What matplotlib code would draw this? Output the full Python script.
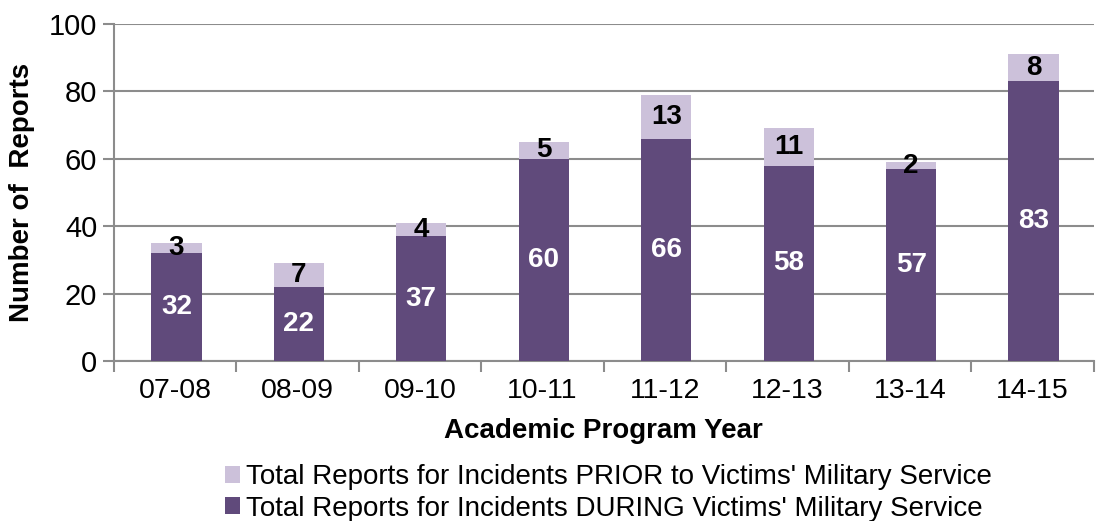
import matplotlib
matplotlib.use("Agg")
import matplotlib.pyplot as plt
import numpy as np
from matplotlib import font_manager

years = ["07-08", "08-09", "09-10", "10-11", "11-12", "12-13", "13-14", "14-15"]
during = [32, 22, 37, 60, 66, 58, 57, 83]
prior = [3, 7, 4, 5, 13, 11, 2, 8]

dark = "#604A7B"
light = "#CCC1DA"
grid = "#8C8C8C"

plt.rcParams['font.family'] = ['Liberation Sans', 'DejaVu Sans']
names = {f.name for f in font_manager.fontManager.ttflist}
legend_family = ['Liberation Sans Narrow'] if 'Liberation Sans Narrow' in names else ['Liberation Sans']

fig = plt.figure(figsize=(11.1, 5.21), dpi=100)
ax = fig.add_axes([0.1027, 0.307, 0.8825, 0.647])

x = np.arange(len(years))
w = 0.41
b1 = ax.bar(x + 0.01, during, w, color=dark, label="Total Reports for Incidents DURING Victims' Military Service", zorder=3)
b2 = ax.bar(x + 0.01, prior, w, bottom=during, color=light, label="Total Reports for Incidents PRIOR to Victims' Military Service", zorder=3)

for xi, d, p in zip(x + 0.01, during, prior):
    ax.text(xi, d / 2, str(d), ha='center', va='center', color='white', fontsize=20, fontweight='bold', zorder=4)
    ax.text(xi, d + p / 2, str(p), ha='center', va='center', color='black', fontsize=20, fontweight='bold', zorder=4)

ax.set_xlim(-0.5, len(years) - 0.5)
ax.set_ylim(0, 100)
ax.set_yticks([0, 20, 40, 60, 80, 100])
ax.set_xticks(x)
ax.set_xticklabels(years)
ax.set_xticks(np.arange(-0.5, len(years)), minor=True)
ax.tick_params(axis='x', which='major', length=0, labelsize=20.5, pad=12)
ax.tick_params(axis='x', which='minor', length=8, width=1.5, color=grid, direction='out')
ax.tick_params(axis='y', length=8, width=1.5, color=grid, labelsize=21, pad=4)

ax.yaxis.grid(True, color=grid, linewidth=1.5, zorder=0)
for s in ['top', 'right']:
    ax.spines[s].set_visible(False)
for s in ['left', 'bottom']:
    ax.spines[s].set_color(grid)
    ax.spines[s].set_linewidth(1.5)

ax.set_xlabel("Academic Program Year", fontsize=20, fontweight='bold', labelpad=10)
ax.set_ylabel("Number of  Reports", fontsize=20, fontweight='bold', labelpad=10)

handles = [b2, b1]
labels = [h.get_label() for h in handles]
leg = fig.legend(handles, labels, loc='lower center', bbox_to_anchor=(0.548, -0.033), ncol=1, frameon=False,
                 prop={'family': legend_family, 'size': 20}, handlelength=0.55, handleheight=0.55,
                 handletextpad=0.2, labelspacing=0.2, borderaxespad=0.2)

fig.savefig("out.png", dpi=100)
